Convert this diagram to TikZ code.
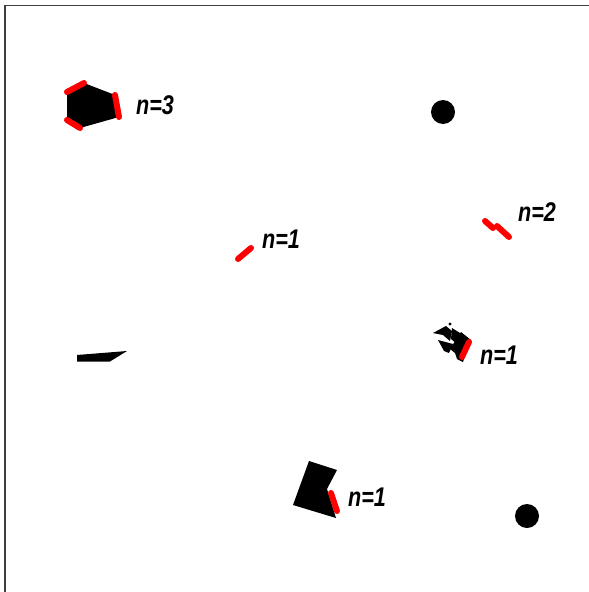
\documentclass[tikz,border=0pt]{standalone}
\usepackage{fontspec}
\setmainfont{Liberation Sans}
\begin{document}
\begin{tikzpicture}[x=1pt,y=-1pt,
  frameline/.style={draw=black!75,line width=1.3pt},
  piece/.style={fill=black,draw=none},
  redseg/.style={draw=red,line width=6pt,line cap=round,line join=round},
  count/.style={font=\fontsize{27}{27}\selectfont\bfseries\itshape,inner sep=0pt,xscale=0.8}]
\useasboundingbox (0,0) rectangle (589,592);
% frame
\coordinate (fr1) at (5,592);
\coordinate (fr2) at (5,5.5);
\coordinate (fr3) at (589,5.5);
\draw[frameline] (fr1) -- (fr2) -- (fr3);

% pentagon with three red edges
\coordinate (p1) at (67,92);
\coordinate (p2) at (84,83);
\coordinate (p3) at (115,95);
\coordinate (p4) at (119,117);
\coordinate (p5) at (80,128);
\coordinate (p6) at (67,120);
\fill[piece] (p1) -- (p2) -- (p3) -- (p4) -- (p5) -- (p6) -- cycle;
\draw[redseg] (p1) -- (p2);
\draw[redseg] (p3) -- (p4);
\draw[redseg] (p6) -- (p5);
\node[count] (t3) at (155,105) {n=3};

% dots
\fill[piece] (443,112) circle (12);
\fill[piece] (527,516) circle (12);

% lone red segment
\coordinate (s1) at (238,259);
\coordinate (s2) at (251,248);
\draw[redseg] (s1) -- (s2);
\node[count] (t1a) at (281,239) {n=1};

% jogged red segment
\coordinate (j1) at (485,221);
\coordinate (j2) at (493,228);
\coordinate (j3) at (497,226);
\coordinate (j4) at (509,237);
\draw[redseg] (j1) -- (j2);
\draw[redseg] (j3) -- (j4);
\node[count] (t2) at (537,212) {n=2};

% thin wedge
\fill[piece] (77,355) -- (127,351) -- (110,361.5) -- (77,361.5) -- cycle;

% shattered shape
\fill[piece] (450,324) circle (1.6);
\fill[piece] (433,333) -- (446,326) -- (452,331) -- (450,341) -- (443,335) -- cycle;
\fill[piece] (452,328) -- (460,333) -- (457,344) -- (451,339) -- cycle;
\fill[piece] (438,340) -- (453,344) -- (449,353) -- (444,351) -- cycle;
\fill[piece] (450,349) -- (461,332) -- (471,340) -- (463,362) -- (457,359) -- (455,353) -- cycle;
\coordinate (z1) at (469,342);
\coordinate (z2) at (462,357);
\draw[redseg] (z1) -- (z2);
\node[count] (t1b) at (499,355) {n=1};

% notched quadrilateral
\coordinate (q1) at (293,505);
\coordinate (q2) at (309,461);
\coordinate (q3) at (337,470);
\coordinate (q4) at (327,489);
\coordinate (q5) at (336,518);
\fill[piece] (q1) -- (q2) -- (q3) -- (q4) -- (q5) -- cycle;
\coordinate (r1) at (331,493);
\coordinate (r2) at (337,511);
\draw[redseg] (r1) -- (r2);
\node[count] (t1c) at (367,497) {n=1};
\end{tikzpicture}
\end{document}
